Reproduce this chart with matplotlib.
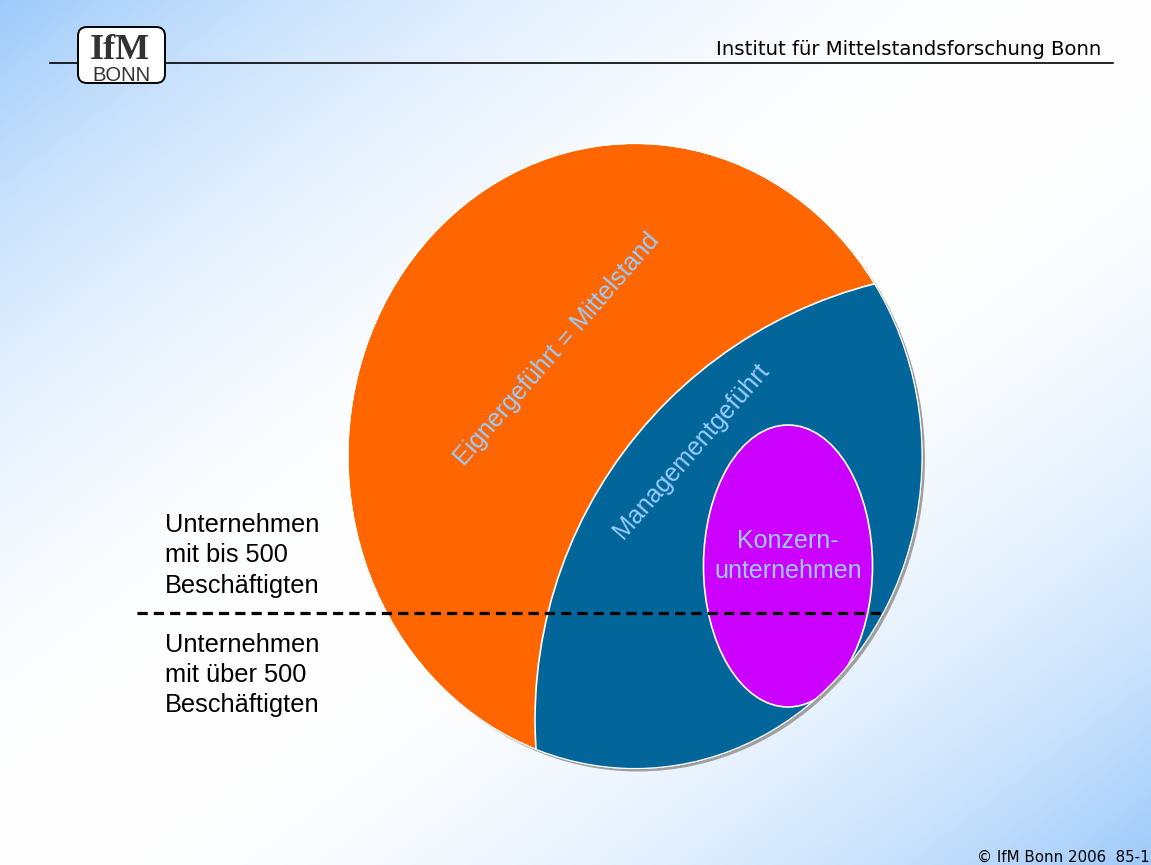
import numpy as np
import matplotlib
matplotlib.use("Agg")
import matplotlib.pyplot as plt
from matplotlib.patches import Ellipse, Circle, FancyBboxPatch

W, H = 1151, 865

# ---------- diagram geometry (slide pixels) ----------
outer_center = (635, 456)      # all enterprises
outer_size = (574, 625)
mgmt_center = (985, 720)       # management-led part (circle clipped to outer)
mgmt_radius = 450
konzern_center = (788, 566)    # group enterprises
konzern_size = (169, 282)
cut_y = 613                    # 500 employees line
cut_x = (137, 883)

# ---------- texts ----------
header = "Institut für Mittelstandsforschung Bonn"
footer = "© IfM Bonn 2006  85-1"
label_owner = "Eignergeführt = Mittelstand"
label_mgmt = "Managementgeführt"
label_konzern = ["Konzern-", "unternehmen"]
label_upper = ["Unternehmen", "mit bis 500", "Beschäftigten"]
label_lower = ["Unternehmen", "mit über 500", "Beschäftigten"]

ORANGE = "#FF6600"
BLUE = "#02669A"
PURPLE = "#CC00FF"
LABEL = "#99CCFF"

fig = plt.figure(figsize=(W / 100, H / 100), dpi=100)
ax = fig.add_axes([0, 0, 1, 1])
ax.set_xlim(0, W)
ax.set_ylim(H, 0)
ax.axis("off")

# ---------- background: blue corners, white diagonal ----------
yy, xx = np.mgrid[0:H, 0:W]
d = np.abs(xx / W + yy / H - 1.0)
w = (d ** 2.1)[..., None]
blue_bg = np.array([158, 202, 250]) / 255.0
bg = (1 - w) * np.ones(3) + w * blue_bg
ax.imshow(bg, extent=(0, W, H, 0), origin="upper", aspect="auto",
          interpolation="bilinear", zorder=0)

# ---------- header ----------
ax.plot([50, 1113], [63, 63], color="black", lw=1.2, zorder=2)
ax.text(1101, 55, header, ha="right", va="baseline", fontsize=14.2,
        family="DejaVu Sans", color="black", zorder=3)

logo = FancyBboxPatch((78, 27), 87, 56, boxstyle="round,pad=0,rounding_size=9",
                      facecolor="white", edgecolor="black", lw=1.4, zorder=3)
ax.add_patch(logo)
ax.text(120, 59, "IfM", ha="center", va="baseline", fontsize=26,
        family="Liberation Serif", weight="bold", color="#333333", zorder=4)
ax.text(121, 81, "BONN", ha="center", va="baseline", fontsize=14.5,
        family="Liberation Sans", color="#333333", zorder=4)

# ---------- diagram ----------
shadow = Ellipse((outer_center[0] + 3, outer_center[1] + 3), *outer_size,
                 facecolor="#a0a0a0", edgecolor="none", zorder=4)
ax.add_patch(shadow)
outer = Ellipse(outer_center, *outer_size, facecolor=ORANGE,
                edgecolor="white", lw=0.8, zorder=5)
ax.add_patch(outer)

mgmt = Circle(mgmt_center, mgmt_radius, facecolor=BLUE, edgecolor="white",
              lw=1.2, zorder=6)
ax.add_patch(mgmt)
mgmt.set_clip_path(outer)

konzern = Ellipse(konzern_center, *konzern_size, facecolor=PURPLE,
                  edgecolor="white", lw=1.2, zorder=7)
ax.add_patch(konzern)
konzern.set_clip_path(outer)

rim = Ellipse(outer_center, *outer_size, facecolor="none",
              edgecolor="white", lw=0.8, zorder=8)
ax.add_patch(rim)

ax.text(557, 349, label_owner, rotation=49, rotation_mode="anchor",
        ha="center", va="center", fontsize=18, family="Liberation Sans",
        color=LABEL, zorder=9)
ax.text(691, 451, label_mgmt, rotation=49, rotation_mode="anchor",
        ha="center", va="center", fontsize=18, family="Liberation Sans",
        color=LABEL, zorder=9)
for i, line in enumerate(label_konzern):
    ax.text(788, 548 + i * 30, line, ha="center", va="baseline", fontsize=18,
            family="Liberation Sans", color=LABEL, zorder=9)

# ---------- 500 employees split ----------
ax.plot(cut_x, [cut_y, cut_y], color="black", lw=2.3,
        linestyle=(0, (3.2, 1.9)), zorder=10)
for i, line in enumerate(label_upper):
    ax.text(165, 532 + i * 30.5, line, ha="left", va="baseline", fontsize=18.3,
            family="Liberation Sans", color="black", zorder=10)
for i, line in enumerate(label_lower):
    ax.text(165, 652 + i * 30, line, ha="left", va="baseline", fontsize=18.3,
            family="Liberation Sans", color="black", zorder=10)

ax.text(1150, 862, footer, ha="right", va="baseline", fontsize=10.8,
        family="DejaVu Sans", color="black", zorder=10)

fig.savefig("out.png", dpi=100)
